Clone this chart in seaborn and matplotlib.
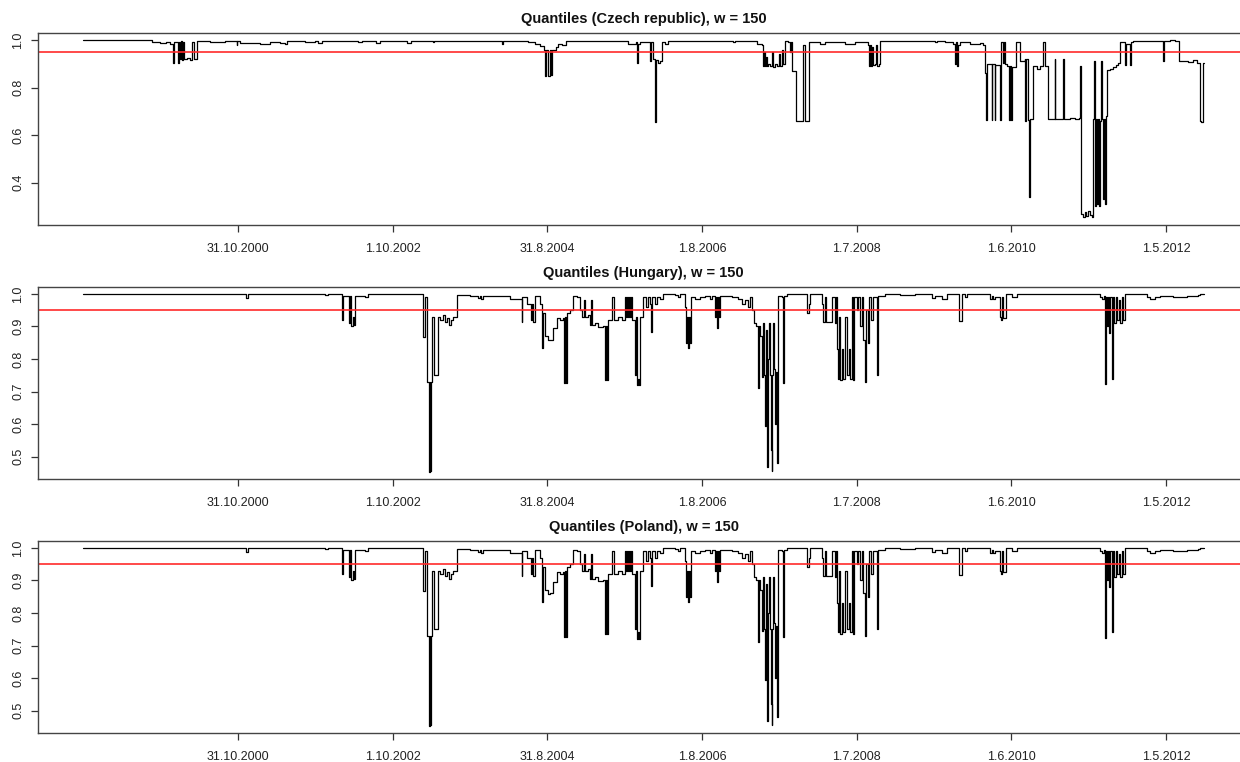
import numpy as np
import pandas as pd
import seaborn as sns
import matplotlib.pyplot as plt

czech_steps = [
    (0, 1.0), (222, 0.992), (248, 0.988), (267, 0.993), (280, 0.985), (289, 0.905), (292, 0.99),
    (305, 0.905), (308, 0.99), (312, 0.92), (316, 0.995), (319, 0.915), (322, 0.99), (325, 0.92),
    (335, 0.925), (345, 0.915), (352, 0.99), (358, 0.92), (367, 0.995), (409, 0.99), (458, 0.995),
    (496, 0.978), (498, 0.995), (506, 0.988), (571, 0.985), (603, 0.99), (636, 0.987), (652, 0.985),
    (658, 0.995), (716, 0.99), (749, 0.995), (758, 0.988), (771, 0.995), (887, 0.99), (900, 0.995),
    (946, 0.988), (959, 0.995), (1046, 0.988), (1059, 0.995), (1130, 0.99), (1133, 0.995),
    (1353, 0.985), (1356, 0.995), (1437, 0.99), (1460, 0.985), (1476, 0.975), (1489, 0.96),
    (1492, 0.85), (1495, 0.96), (1502, 0.85), (1508, 0.96), (1511, 0.855), (1515, 0.96),
    (1527, 0.97), (1534, 0.985), (1547, 0.98), (1560, 0.995), (1760, 0.985), (1786, 0.99),
    (1789, 0.905), (1792, 0.985), (1799, 0.99), (1832, 0.91), (1835, 0.99), (1841, 0.92),
    (1848, 0.655), (1851, 0.915), (1857, 0.905), (1864, 0.91), (1870, 0.99), (1880, 0.985),
    (1890, 0.995), (2100, 0.99), (2106, 0.995), (2177, 0.985), (2193, 0.98), (2196, 0.89),
    (2200, 0.95), (2203, 0.89), (2206, 0.93), (2209, 0.89), (2213, 0.90), (2219, 0.89),
    (2226, 0.95), (2229, 0.885), (2235, 0.90), (2242, 0.89), (2248, 0.94), (2252, 0.89),
    (2258, 0.96), (2261, 0.90), (2268, 0.995), (2277, 0.99), (2284, 0.95), (2287, 0.99),
    (2290, 0.87), (2305, 0.66), (2325, 0.98), (2332, 0.66), (2346, 0.99), (2381, 0.985),
    (2397, 0.99), (2462, 0.985), (2494, 0.99), (2536, 0.98), (2539, 0.89), (2542, 0.98),
    (2546, 0.89), (2549, 0.97), (2552, 0.895), (2559, 0.90), (2562, 0.98), (2565, 0.89),
    (2571, 0.90), (2575, 0.995), (2753, 0.99), (2759, 0.995), (2785, 0.99), (2811, 0.985),
    (2817, 0.90), (2820, 0.99), (2824, 0.89), (2827, 0.98), (2833, 0.99), (2866, 0.985),
    (2898, 0.988), (2908, 0.98), (2914, 0.86), (2917, 0.665), (2920, 0.90), (2936, 0.665),
    (2938, 0.90), (2946, 0.665), (2948, 0.895), (2963, 0.665), (2965, 0.90), (2968, 0.99),
    (2972, 0.905), (2975, 0.99), (2979, 0.90), (2985, 0.89), (2992, 0.665), (2995, 0.89),
    (2998, 0.665), (3001, 0.885), (3016, 0.99), (3021, 0.99), (3027, 0.91), (3043, 0.92),
    (3044, 0.66), (3047, 0.92), (3053, 0.665), (3056, 0.34), (3059, 0.67), (3071, 0.89),
    (3082, 0.88), (3092, 0.89), (3102, 0.99), (3108, 0.89), (3118, 0.67), (3128, 0.668),
    (3140, 0.92), (3142, 0.67), (3167, 0.92), (3169, 0.67), (3189, 0.672), (3205, 0.668),
    (3218, 0.672), (3221, 0.89), (3224, 0.27), (3231, 0.255), (3237, 0.275), (3240, 0.26),
    (3247, 0.28), (3253, 0.265), (3260, 0.255), (3263, 0.67), (3266, 0.91), (3269, 0.30),
    (3273, 0.67), (3276, 0.31), (3279, 0.67), (3282, 0.30), (3286, 0.66), (3289, 0.91),
    (3292, 0.67), (3295, 0.33), (3298, 0.67), (3302, 0.31), (3305, 0.68), (3308, 0.873),
    (3318, 0.88), (3328, 0.885), (3337, 0.895), (3344, 0.905), (3350, 0.99), (3366, 0.985),
    (3367, 0.895), (3369, 0.985), (3382, 0.895), (3385, 0.99), (3392, 0.997), (3489, 0.91),
    (3493, 0.997), (3512, 1.0), (3528, 0.997), (3541, 0.911), (3570, 0.908), (3586, 0.915),
    (3596, 0.918), (3599, 0.905), (3609, 0.66), (3614, 0.655), (3619, 0.905), (3622, 0.905),
]

hungary_steps = [
    (0, 1.0), (526, 0.989), (532, 1.0), (781, 0.997), (791, 1.0), (835, 0.92), (838, 0.995),
    (859, 0.91), (862, 0.995), (865, 0.90), (872, 0.93), (875, 0.905), (878, 0.995), (910, 0.99),
    (920, 1.0), (1099, 0.868), (1103, 0.99), (1111, 0.729), (1118, 0.452), (1120, 0.73),
    (1122, 0.455), (1124, 0.73), (1126, 0.93), (1131, 0.93), (1133, 0.75), (1143, 0.75),
    (1147, 0.93), (1153, 0.92), (1163, 0.935), (1169, 0.915), (1176, 0.925), (1182, 0.905),
    (1189, 0.92), (1195, 0.93), (1207, 0.997), (1250, 0.995), (1276, 0.988), (1282, 0.995),
    (1285, 0.985), (1292, 0.995), (1379, 0.985), (1417, 0.915), (1419, 0.99), (1434, 0.97),
    (1447, 0.92), (1450, 0.97), (1453, 0.915), (1460, 0.995), (1476, 0.97), (1482, 0.833),
    (1486, 0.94), (1492, 0.87), (1502, 0.858), (1508, 0.86), (1518, 0.895), (1531, 0.926),
    (1541, 0.92), (1550, 0.925), (1553, 0.725), (1557, 0.93), (1560, 0.725), (1563, 0.94),
    (1573, 0.95), (1583, 0.995), (1596, 0.99), (1605, 0.95), (1612, 0.93), (1618, 0.98),
    (1621, 0.93), (1631, 0.935), (1637, 0.904), (1641, 0.98), (1644, 0.905), (1654, 0.91),
    (1663, 0.899), (1679, 0.90), (1686, 0.735), (1689, 0.90), (1692, 0.735), (1696, 0.92),
    (1709, 0.99), (1715, 0.92), (1728, 0.93), (1741, 0.92), (1751, 0.99), (1754, 0.93),
    (1757, 0.99), (1760, 0.93), (1764, 0.99), (1767, 0.93), (1770, 0.99), (1773, 0.92),
    (1783, 0.75), (1786, 0.93), (1789, 0.72), (1793, 0.74), (1796, 0.72), (1799, 0.93),
    (1809, 0.99), (1819, 0.96), (1825, 0.99), (1832, 0.97), (1835, 0.884), (1838, 0.99),
    (1848, 0.97), (1854, 0.99), (1864, 0.985), (1873, 0.999), (1912, 0.997), (1922, 0.99),
    (1928, 1.0), (1944, 0.96), (1948, 0.85), (1951, 0.93), (1954, 0.833), (1957, 0.93),
    (1961, 0.85), (1964, 0.99), (1977, 0.985), (1993, 0.99), (2009, 0.995), (2025, 0.985),
    (2032, 0.995), (2041, 0.93), (2045, 0.99), (2048, 0.895), (2051, 0.99), (2054, 0.93),
    (2058, 0.995), (2096, 0.99), (2116, 0.985), (2129, 0.97), (2139, 0.98), (2148, 0.96),
    (2155, 0.99), (2161, 0.95), (2168, 0.91), (2174, 0.90), (2181, 0.71), (2184, 0.90),
    (2187, 0.87), (2194, 0.745), (2197, 0.91), (2200, 0.75), (2203, 0.595), (2206, 0.89),
    (2210, 0.467), (2213, 0.80), (2216, 0.91), (2219, 0.75), (2222, 0.52), (2225, 0.457),
    (2227, 0.75), (2229, 0.91), (2232, 0.77), (2235, 0.60), (2239, 0.76), (2241, 0.48),
    (2244, 0.83), (2245, 0.995), (2258, 0.99), (2262, 0.725), (2264, 0.995), (2274, 1.0),
    (2339, 0.94), (2345, 0.97), (2349, 1.0), (2387, 0.97), (2391, 0.915), (2397, 0.99),
    (2400, 0.915), (2420, 0.99), (2429, 0.91), (2433, 0.99), (2436, 0.83), (2439, 0.74),
    (2442, 0.93), (2446, 0.735), (2452, 0.83), (2455, 0.74), (2462, 0.93), (2468, 0.75),
    (2475, 0.83), (2478, 0.74), (2484, 0.99), (2488, 0.735), (2491, 0.99), (2501, 0.95),
    (2504, 0.99), (2510, 0.90), (2517, 0.99), (2520, 0.86), (2527, 0.73), (2530, 0.95),
    (2536, 0.85), (2539, 0.99), (2546, 0.92), (2552, 0.99), (2565, 0.75), (2568, 0.995),
    (2591, 1.0), (2640, 0.997), (2688, 1.0), (2743, 0.987), (2752, 0.995), (2775, 0.985),
    (2791, 1.0), (2830, 0.917), (2839, 1.0), (2849, 0.99), (2855, 1.0), (2930, 0.985),
    (2936, 0.995), (2940, 0.985), (2946, 0.99), (2963, 0.93), (2966, 0.92), (2969, 0.99),
    (2972, 0.925), (2982, 1.0), (3001, 0.99), (3018, 1.0), (3286, 0.99), (3292, 0.985),
    (3299, 0.995), (3302, 0.722), (3305, 0.99), (3308, 0.90), (3312, 0.99), (3315, 0.88),
    (3318, 0.99), (3324, 0.74), (3328, 0.99), (3331, 0.91), (3337, 0.99), (3341, 0.92),
    (3347, 0.98), (3350, 0.91), (3357, 0.99), (3360, 0.92), (3366, 1.0), (3437, 0.99),
    (3447, 0.985), (3463, 0.99), (3479, 0.995), (3521, 0.99), (3544, 0.992), (3567, 0.995),
    (3603, 0.997), (3609, 1.0), (3622, 1.0),
]

# the Poland panel shows the same curve as the Hungary panel
poland_steps = list(hungary_steps)

tick_pos = [500, 1000, 1500, 2000, 2500, 3000, 3500]
tick_labels = ['31.10.2000', '1.10.2002', '31.8.2004', '1.8.2006', '1.7.2008', '1.6.2010', '1.5.2012']

titles = ['Quantiles (Czech republic), w = 150', 'Quantiles (Hungary), w = 150',
          'Quantiles (Poland), w = 150']
series = [czech_steps, hungary_steps, poland_steps]
ylims = [(0.222, 1.031), (0.431, 1.0225), (0.431, 1.0225)]
yticks = [[0.4, 0.6, 0.8, 1.0], [0.5, 0.6, 0.7, 0.8, 0.9, 1.0], [0.5, 0.6, 0.7, 0.8, 0.9, 1.0]]
threshold = 0.95

sns.set_style('white')
plt.rcParams['font.family'] = ['Liberation Sans', 'DejaVu Sans']

fig = plt.figure(figsize=(12.4, 7.62), dpi=100)
bottoms = [0.7047, 0.3714, 0.0381]

for i in range(3):
    ax = fig.add_axes([0.031, bottoms[i], 0.976, 0.2524])
    df = pd.DataFrame(series[i], columns=['idx', 'q'])
    sns.lineplot(data=df, x='idx', y='q', ax=ax, color='black', lw=0.9,
                 drawstyle='steps-post', estimator=None, sort=False)
    ax.axhline(threshold, color='#ff2a2a', lw=1.2)
    ax.set_xlim(-145, 3767)
    ax.set_ylim(*ylims[i])
    ax.set_xticks(tick_pos)
    ax.set_xticklabels(tick_labels)
    ax.set_yticks(yticks[i])
    ax.set_yticklabels(['%.1f' % v for v in yticks[i]], rotation=90, va='center')
    ax.tick_params(axis='both', direction='out', length=5, width=0.9, color='#333333',
                   labelsize=9, labelcolor='#222222', bottom=True, left=True)
    ax.tick_params(axis='x', pad=8)
    ax.tick_params(axis='y', pad=5)
    ax.set_xlabel('')
    ax.set_ylabel('')
    for s in ax.spines.values():
        s.set_color('#444444')
        s.set_linewidth(1.0)
    ax.set_title(titles[i], fontsize=10.5, fontweight='bold', pad=7, color='#111111')

fig.savefig('out.png', dpi=100)
